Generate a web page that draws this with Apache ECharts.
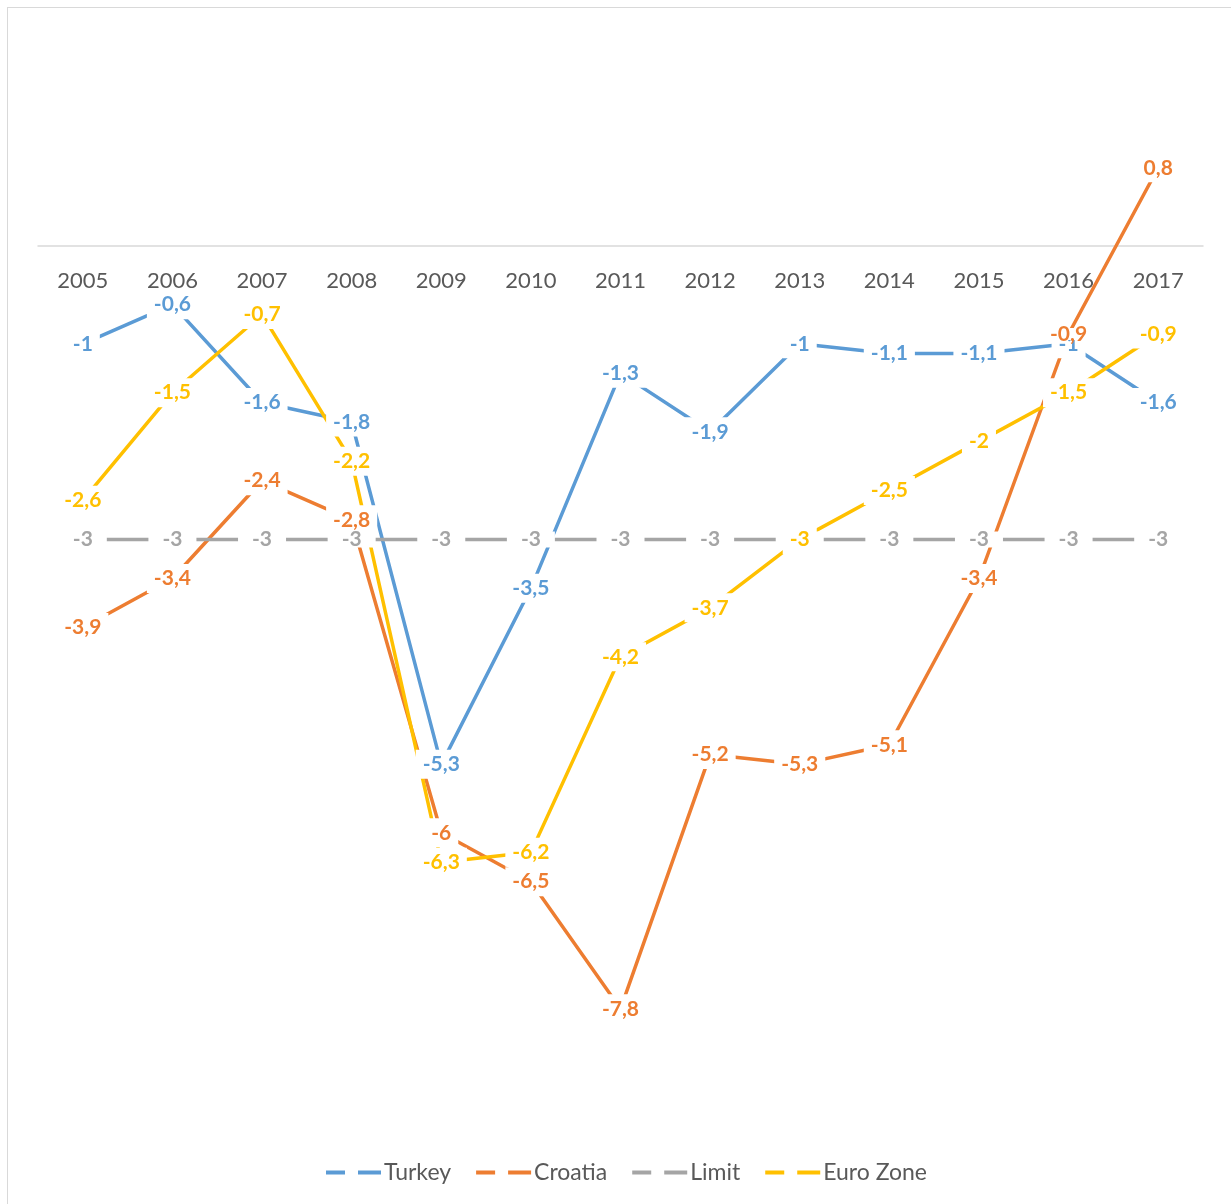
<!DOCTYPE html>
<html>
<head>
<meta charset="utf-8">
<script src="https://cdn.jsdelivr.net/npm/echarts@6/dist/echarts.min.js"></script>
<style>
html,body{margin:0;padding:0;background:#fff;}
#frame{position:absolute;left:7px;top:7px;width:1300px;height:1300px;border:1px solid #d9d9d9;box-sizing:border-box;}
#chart{position:absolute;left:0;top:0;width:1231px;height:1204px;}
</style>
</head>
<body>
<div id="frame"></div>
<div id="chart"></div>
<script>
const categories = ['2005','2006','2007','2008','2009','2010','2011','2012','2013','2014','2015','2016','2017'];
const seriesNames = ['Turkey','Croatia','Limit','Euro Zone'];
const turkey   = [-1, -0.6, -1.6, -1.8, -5.3, -3.5, -1.3, -1.9, -1, -1.1, -1.1, -1, -1.6];
const croatia  = [-3.9, -3.4, -2.4, -2.8, -6, -6.5, -7.8, -5.2, -5.3, -5.1, -3.4, -0.9, 0.8];
const limit    = [-3, -3, -3, -3, -3, -3, -3, -3, -3, -3, -3, -3, -3];
const euroZone = [-2.6, -1.5, -0.7, -2.2, -6.3, -6.2, -4.2, -3.7, -3, -2.5, -2, -1.5, -0.9];
const colors = ['#5B9BD5', '#ED7D31', '#A5A5A5', '#FFC000'];

const fmt = p => String(p.value).replace('.', ',');

function mk(name, values, color, labelExtra, overrides) {
  return {
    type: 'line',
    name: name,
    data: values.map((v, i) => (overrides && overrides[i]) ? Object.assign({value: v}, overrides[i]) : v),
    symbol: 'circle',
    symbolSize: 0,
    showSymbol: true,
    silent: true,
    animation: false,
    lineStyle: {color: color, width: 3.5},
    itemStyle: {color: color},
    emphasis: {disabled: true},
    label: Object.assign({
      show: true,
      position: 'inside',
      formatter: fmt,
      color: color,
      fontFamily: 'Lato',
      fontWeight: 'bold',
      fontSize: 21,
      backgroundColor: '#ffffff',
      padding: [4, 7]
    }, labelExtra)
  };
}

const gridTop = 50.4, gridBottom = 77.8;
const chart = echarts.init(document.getElementById('chart'), null, {renderer: 'canvas'});
chart.setOption({
  animation: false,
  color: colors,
  grid: {left: 38, right: 28, top: gridTop, bottom: gridBottom, containLabel: false},
  xAxis: {
    type: 'category',
    data: categories,
    boundaryGap: true,
    position: 'bottom',
    offset: -(1204 - gridBottom - 246),
    axisLine: {onZero: false, lineStyle: {color: '#d9d9d9', width: 1.5}},
    axisTick: {show: false},
    axisLabel: {color: '#595959', fontFamily: 'Lato', fontSize: 22, margin: 24},
    splitLine: {show: false}
  },
  yAxis: {
    type: 'value',
    min: -9,
    max: 2,
    interval: 1,
    show: false,
    splitLine: {show: false}
  },
  legend: {
    data: seriesNames,
    left: 326,
    top: 1161,
    padding: 0,
    itemWidth: 55,
    itemHeight: 4,
    itemGap: 25,
    icon: 'path://M0,0H19V4H0ZM32,0H55V4H32Z',
    textStyle: {color: '#595959', fontFamily: 'Lato', fontSize: 23, padding: [0, 0, 0, -2]}
  },
  series: [
    mk(seriesNames[0], turkey, colors[0], {}),
    mk(seriesNames[1], croatia, colors[1], {}, {11: {label: {lineHeight: 12, padding: [0, 4]}}}),
    mk(seriesNames[2], limit, colors[2], {lineHeight: 16, padding: [0, 14]}),
    mk(seriesNames[3], euroZone, colors[3], {})
  ]
});
</script>
</body>
</html>
